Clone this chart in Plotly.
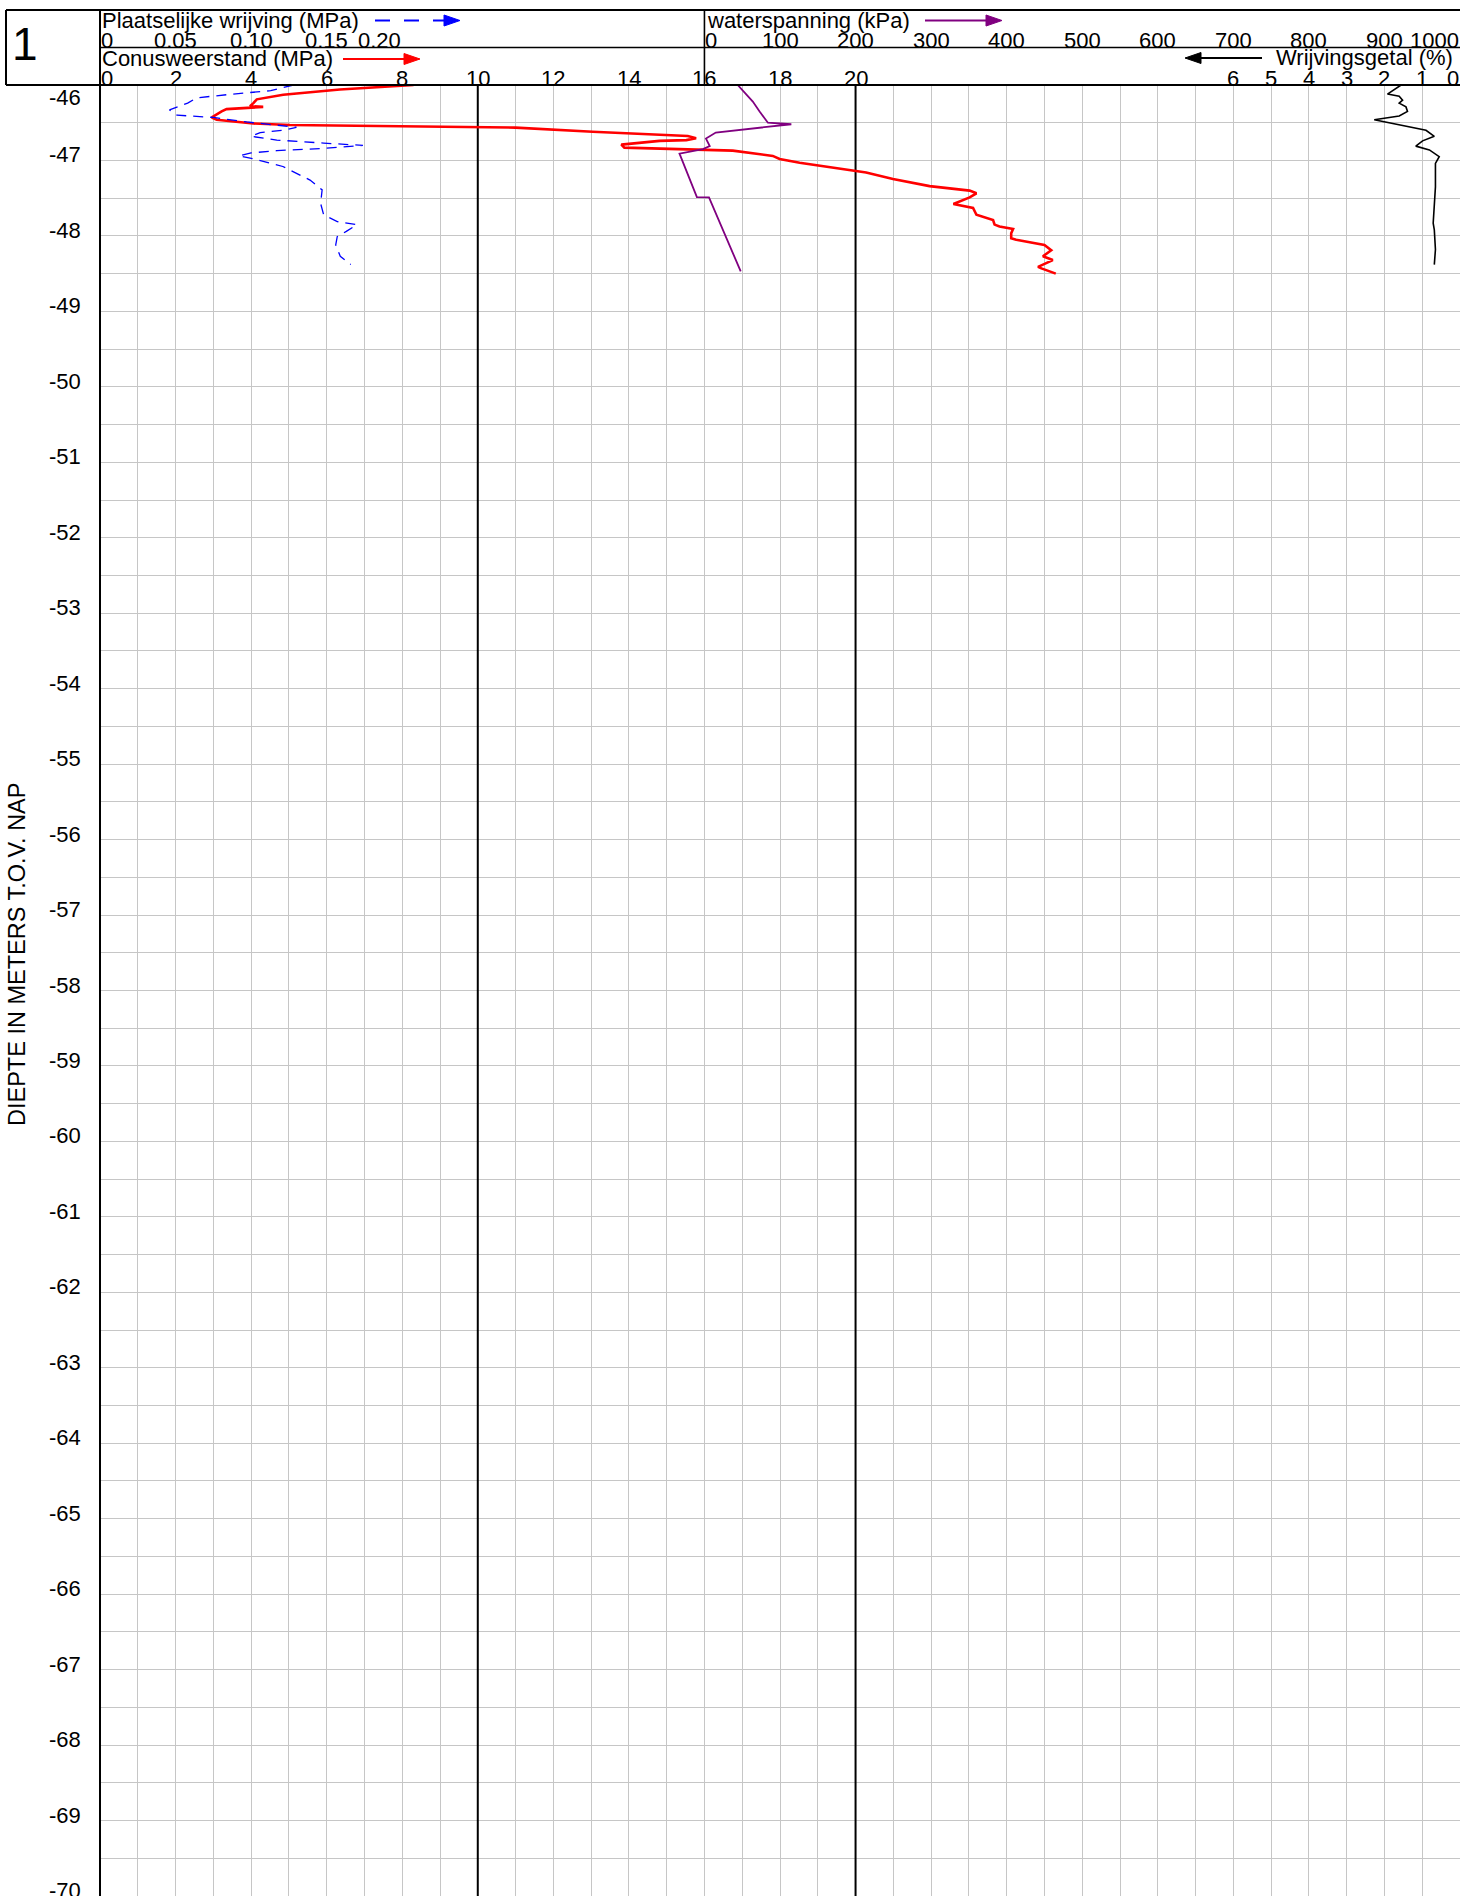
import plotly.graph_objects as go

# ---------------- data ----------------
# Conusweerstand (MPa)
cone_depth = [-46.0, -46.06, -46.13, -46.15, -46.19, -46.24, -46.28, -46.29, -46.32, -46.35,
              -46.42, -46.43, -46.46, -46.51, -46.53, -46.55, -46.565, -46.62, -46.66, -46.675,
              -46.705, -46.73, -46.74, -46.79, -46.83, -46.85, -46.87, -46.94, -46.98, -47.03,
              -47.06, -47.135, -47.16, -47.245, -47.34, -47.40, -47.435, -47.49, -47.576, -47.63,
              -47.72, -47.79, -47.85, -47.876, -47.90, -47.907, -47.966, -48.03, -48.05, -48.12,
              -48.19, -48.27, -48.32, -48.41, -48.43, -48.50]
cone_mpa = [8.30, 6.35, 4.85, 4.63, 4.15, 4.06, 3.97, 4.32, 3.35, 3.22,
            3.00, 2.96, 3.09, 4.06, 5.03, 9.27, 11.0, 13.04, 14.99, 15.56,
            15.78, 15.52, 14.81, 13.80, 13.88, 15.16, 16.75, 17.81, 17.99, 18.52,
            18.96, 20.0, 20.28, 20.99, 21.96, 23.02, 23.2, 23.02, 22.59, 23.11,
            23.2, 23.64, 23.68, 23.81, 24.08, 24.17, 24.12, 24.12, 24.25, 25.0,
            25.18, 24.96, 25.22, 24.83, 24.92, 25.30]

# Plaatselijke wrijving (MPa)
fric_depth = [-46.0, -46.075, -46.12, -46.17, -46.24, -46.33, -46.40, -46.43, -46.49, -46.56,
              -46.60, -46.63, -46.68, -46.73, -46.77, -46.80, -46.84, -46.87, -46.90, -46.94,
              -46.98, -47.08, -47.26, -47.39, -47.57, -47.72, -47.81, -47.85, -47.94, -48.01,
              -48.12, -48.27, -48.38]
fric_mpa = [0.128, 0.113, 0.088, 0.064, 0.058, 0.046, 0.051, 0.075, 0.097, 0.130,
            0.121, 0.106, 0.100, 0.117, 0.148, 0.174, 0.148, 0.117, 0.100, 0.092,
            0.102, 0.121, 0.139, 0.147, 0.146, 0.148, 0.157, 0.170, 0.163, 0.157,
            0.156, 0.159, 0.166]

# waterspanning (kPa)
water_depth = [-46.0, -46.22, -46.35, -46.50, -46.52, -46.55, -46.60, -46.63, -46.71, -46.81,
               -46.85, -46.91, -47.485, -47.49, -48.47]
water_kpa = [44, 64, 73, 84, 115, 90, 46, 15, 2, 7,
             -2, -33, -10, 6, 48]

# Wrijvingsgetal (%)
ratio_depth = [-46.0, -46.04, -46.12, -46.15, -46.20, -46.24, -46.29, -46.35, -46.41, -46.46,
               -46.50, -46.56, -46.60, -46.68, -46.74, -46.81, -46.86, -46.95, -47.04, -47.35,
               -47.57, -47.83, -47.92, -48.18, -48.38]
ratio_pct = [1.56, 1.69, 1.92, 1.61, 1.52, 1.61, 1.43, 1.39, 1.61, 2.27,
             1.87, 1.34, 0.90, 0.68, 0.99, 1.17, 0.81, 0.55, 0.65, 0.65,
             0.68, 0.71, 0.68, 0.65, 0.68]

# tick labels
depth_ticks = list(range(-46, -71, -1))
depth_range = [-70, -46]
cone_ticks = [0, 2, 4, 6, 8, 10, 12, 14, 16, 18, 20]
cone_major = [10, 20]
fric_ticks = ["0", "0.05", "0.10", "0.15", "0.20"]
water_ticks = [0, 100, 200, 300, 400, 500, 600, 700, 800, 900, 1000]
ratio_ticks = [6, 5, 4, 3, 2, 1, 0]

# ---------------- layout helpers ----------------
W, H = 1460, 1896
L, T = 100, 85
PW, PH = W - L, H - T
FONT = "Liberation Sans, Arial, Helvetica, sans-serif"
FS = 22


def pxx(x):
    return (x - L) / PW


def pxy(y):
    return (H - y) / PH


fig = go.Figure()

# major black grid lines (drawn first, beneath the data)
for v in cone_major:
    fig.add_trace(go.Scatter(x=[v, v], y=depth_range, mode="lines",
                             line=dict(color="black", width=2), xaxis="x", yaxis="y",
                             showlegend=False, hoverinfo="skip"))

fig.add_trace(go.Scatter(x=cone_mpa, y=cone_depth, mode="lines",
                         line=dict(color="#ff0000", width=2.6), xaxis="x", yaxis="y",
                         showlegend=False, hoverinfo="skip"))
fig.add_trace(go.Scatter(x=fric_mpa, y=fric_depth, mode="lines",
                         line=dict(color="#0000ff", width=1.3, dash="10px,7px"), xaxis="x2", yaxis="y",
                         showlegend=False, hoverinfo="skip"))
fig.add_trace(go.Scatter(x=water_kpa, y=water_depth, mode="lines",
                         line=dict(color="#800080", width=1.8), xaxis="x3", yaxis="y",
                         showlegend=False, hoverinfo="skip"))
fig.add_trace(go.Scatter(x=ratio_pct, y=ratio_depth, mode="lines",
                         line=dict(color="#000000", width=1.6), xaxis="x4", yaxis="y",
                         showlegend=False, hoverinfo="skip"))

hidden = dict(visible=False, showgrid=False, zeroline=False, fixedrange=True)
fig.update_layout(
    width=W, height=H,
    margin=dict(l=L, r=0, t=T, b=0, pad=0),
    paper_bgcolor="white", plot_bgcolor="white",
    font=dict(family=FONT, size=FS, color="black"),
    xaxis=dict(range=[0, 36], tick0=0, dtick=1, showgrid=True, gridcolor="#c6c6c6", gridwidth=1.4,
               showticklabels=False, ticks="", zeroline=False, showline=False),
    xaxis2=dict(range=[0, 0.9], overlaying="x", **hidden),
    xaxis3=dict(range=[-800, 1000], overlaying="x", **hidden),
    xaxis4=dict(range=[36, 0], overlaying="x", **hidden),
    yaxis=dict(range=depth_range, tick0=-70, dtick=0.5, showgrid=True, gridcolor="#c6c6c6", gridwidth=1.4,
               showticklabels=False, ticks="", zeroline=False, showline=False),
)

shapes = []
# left axis line (through header)
shapes.append(dict(type="line", xref="paper", yref="paper", x0=0, x1=0, y0=0, y1=pxy(10),
                   line=dict(color="black", width=2)))
# header box
shapes.append(dict(type="line", xref="paper", yref="paper", x0=pxx(6), x1=1, y0=pxy(10), y1=pxy(10),
                   line=dict(color="black", width=2)))
shapes.append(dict(type="line", xref="paper", yref="paper", x0=pxx(6), x1=1, y0=1, y1=1,
                   line=dict(color="black", width=2)))
shapes.append(dict(type="line", xref="paper", yref="paper", x0=pxx(6), x1=pxx(6), y0=pxy(10), y1=1,
                   line=dict(color="black", width=2)))
shapes.append(dict(type="line", xref="paper", yref="paper", x0=0, x1=1, y0=pxy(47.5), y1=pxy(47.5),
                   line=dict(color="black", width=1.6)))
shapes.append(dict(type="line", xref="x", yref="paper", x0=16, x1=16, y0=1, y1=pxy(10),
                   line=dict(color="black", width=1.6)))


def arrow(x0, x1, y, color, dash=None, direction=1):
    """legend arrow in pixel coordinates; direction 1 = to the right"""
    head = 16
    hh = 5.5
    if direction == 1:
        lx0, lx1 = x0, x1 - head + 1
        tip, base = x1, x1 - head
    else:
        lx0, lx1 = x0 + head - 1, x1
        tip, base = x0, x0 + head
    ln = dict(color=color, width=2)
    if dash:
        ln["dash"] = dash
    shapes.append(dict(type="line", xref="paper", yref="paper", x0=pxx(lx0), x1=pxx(lx1),
                       y0=pxy(y), y1=pxy(y), line=ln))
    path = (f"M {pxx(base)},{pxy(y - hh)} L {pxx(tip)},{pxy(y)} "
            f"L {pxx(base)},{pxy(y + hh)} Z")
    shapes.append(dict(type="path", xref="paper", yref="paper", path=path,
                       fillcolor=color, line=dict(color=color, width=1)))


arrow(375, 460, 20.5, "#0000ff", dash="15px,14px")
arrow(343, 420, 59, "#ff0000")
arrow(925, 1002, 20.5, "#800080")
arrow(1185, 1262, 58, "#000000", direction=-1)

fig.update_layout(shapes=shapes)

ann = []


def txt(text, x, y, xanchor="left", yanchor="middle", xref="paper", size=FS, **kw):
    ann.append(dict(text=text, x=x, y=y, xref=xref, yref="paper", xanchor=xanchor,
                    yanchor=yanchor, showarrow=False, font=dict(size=size, family=FONT, color="black"),
                    borderpad=0, **kw))


# big number
txt("1", pxx(25), pxy(44), xanchor="center", size=46)
# header titles
txt("Plaatselijke wrijving (MPa)", pxx(101), pxy(20.5))
txt("Conusweerstand (MPa)", pxx(101), pxy(58.5))
txt("waterspanning (kPa)", pxx(706), pxy(20.5))
txt("Wrijvingsgetal (%)", pxx(1454), pxy(57.5), xanchor="right")

ROW1 = pxy(40.5)
ROW2 = pxy(78.5)
# friction tick labels (row 1)
fric_vals = [float(s) for s in fric_ticks]
for s, v in zip(fric_ticks, fric_vals):
    if v == 0:
        txt(s, v, ROW1, xanchor="left", xref="x2")
    elif v == max(fric_vals):
        txt(s, v, ROW1, xanchor="right", xref="x2")
    else:
        txt(s, v, ROW1, xanchor="center", xref="x2")
# water tick labels (row 1)
for v in water_ticks:
    xa = "left" if v == 0 else ("right" if v == max(water_ticks) else "center")
    txt(str(v), v, ROW1, xanchor=xa, xref="x3")
# cone tick labels (row 2)
for v in cone_ticks:
    xa = "left" if v == 0 else "center"
    txt(str(v), v, ROW2, xanchor=xa, xref="x")
# friction ratio tick labels (row 2)
for v in ratio_ticks:
    xa = "right" if v == 0 else "center"
    txt(str(v), v, ROW2, xanchor=xa, xref="x4")

# depth labels
for d in depth_ticks:
    shift = -12.5 if d == -46 else 5.5
    ann.append(dict(text=str(d), x=pxx(82), y=d, xref="paper", yref="y", xanchor="right",
                    yanchor="middle", yshift=shift, showarrow=False, borderpad=0,
                    font=dict(size=FS, family=FONT, color="black")))

# y title
ann.append(dict(text="DIEPTE IN METERS T.O.V. NAP", x=pxx(17), y=pxy(955), xref="paper", yref="paper",
                xanchor="center", yanchor="middle", textangle=-90, showarrow=False,
                font=dict(size=23.5, family=FONT, color="black")))

fig.update_layout(annotations=ann)
fig.write_html("out.html", config={"displayModeBar": False},
               post_script="document.body.style.margin='0';document.body.style.overflow='hidden';")
